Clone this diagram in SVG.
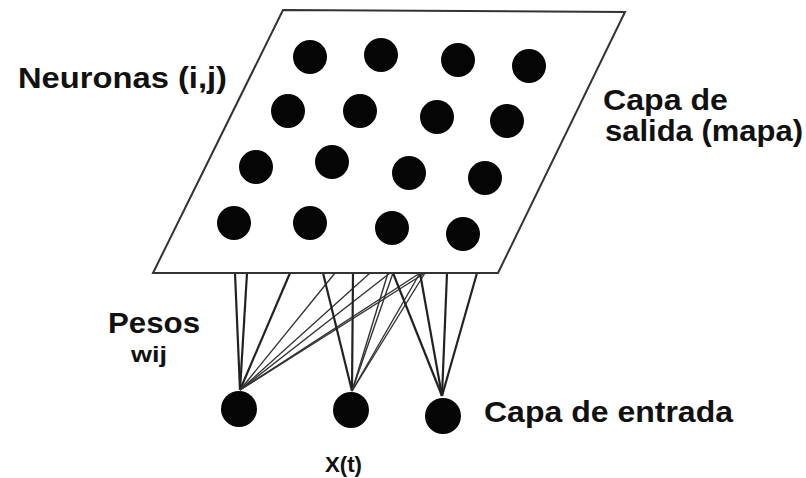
<svg xmlns="http://www.w3.org/2000/svg" width="806" height="478" viewBox="0 0 806 478">
<style>
.lbl{font-family:"Liberation Sans",Arial,sans-serif;font-weight:bold;fill:#111;}
.big{font-size:30px;}
.sm{font-size:22px;}
.dot{fill:#050505;}
.plane{fill:#fff;stroke:#333;stroke-width:2;}
.w{stroke:#222;stroke-width:2.2;fill:none;}
.t{stroke:#333;stroke-width:1.4;fill:none;}
</style>
<rect width="806" height="478" fill="#fff"/>
<g id="connectors">
<line class="w" x1="240" y1="390" x2="235" y2="273"/>
<line class="w" x1="240" y1="390" x2="247" y2="273"/>
<line class="w" x1="240" y1="390" x2="290" y2="273"/>
<line class="t" x1="240" y1="390" x2="335" y2="273"/>
<line class="t" x1="240" y1="390" x2="370" y2="273"/>
<line class="t" x1="240" y1="390" x2="390" y2="273"/>
<line class="t" x1="240" y1="390" x2="420" y2="273"/>
<line class="t" x1="240" y1="390" x2="425" y2="273"/>
<line class="w" x1="352" y1="391" x2="323" y2="273"/>
<line class="w" x1="352" y1="391" x2="353" y2="273"/>
<line class="t" x1="352" y1="391" x2="388" y2="273"/>
<line class="t" x1="352" y1="391" x2="393" y2="273"/>
<line class="t" x1="352" y1="391" x2="420" y2="273"/>
<line class="t" x1="352" y1="391" x2="425" y2="273"/>
<line class="w" x1="442" y1="396" x2="393" y2="273"/>
<line class="w" x1="442" y1="396" x2="420" y2="273"/>
<line class="w" x1="442" y1="396" x2="447" y2="273"/>
<line class="w" x1="442" y1="396" x2="477" y2="273"/>
</g>
<g id="mapa">
<polygon class="plane" points="283,10 625,12 498,273 153,273"/>
<g id="neuronas">
<circle class="dot" cx="310" cy="57" r="17"/>
<circle class="dot" cx="381" cy="55" r="17"/>
<circle class="dot" cx="458" cy="60" r="17"/>
<circle class="dot" cx="529" cy="66" r="17"/>
<circle class="dot" cx="288" cy="111" r="17"/>
<circle class="dot" cx="360" cy="111" r="17"/>
<circle class="dot" cx="437" cy="117" r="17"/>
<circle class="dot" cx="507" cy="121" r="17"/>
<circle class="dot" cx="256" cy="167" r="17"/>
<circle class="dot" cx="332" cy="162" r="17"/>
<circle class="dot" cx="409" cy="173" r="17"/>
<circle class="dot" cx="485" cy="178" r="17"/>
<circle class="dot" cx="234" cy="223" r="17"/>
<circle class="dot" cx="310" cy="223" r="17"/>
<circle class="dot" cx="392" cy="228" r="17"/>
<circle class="dot" cx="463" cy="234" r="17"/>
</g>
</g>
<g id="entrada1"><circle class="dot" cx="239" cy="409" r="18"/></g>
<g id="entrada2"><circle class="dot" cx="351" cy="410" r="18"/></g>
<g id="entrada3"><circle class="dot" cx="443" cy="416" r="18"/></g>
<g id="labels">
<text class="lbl big" x="18" y="88" textLength="209" lengthAdjust="spacingAndGlyphs">Neuronas (i,j)</text>
<text class="lbl big" x="603" y="110" textLength="125" lengthAdjust="spacingAndGlyphs">Capa de</text>
<text class="lbl big" x="605" y="141" textLength="198" lengthAdjust="spacingAndGlyphs">salida (mapa)</text>
<text class="lbl big" x="108" y="333" textLength="92" lengthAdjust="spacingAndGlyphs">Pesos</text>
<text class="lbl sm" x="131" y="362" font-size="24" textLength="36" lengthAdjust="spacingAndGlyphs">wij</text>
<text class="lbl big" x="484" y="422" textLength="249" lengthAdjust="spacingAndGlyphs">Capa de entrada</text>
<text class="lbl sm" x="325" y="472" textLength="37" lengthAdjust="spacingAndGlyphs">X(t)</text>
</g>
</svg>
